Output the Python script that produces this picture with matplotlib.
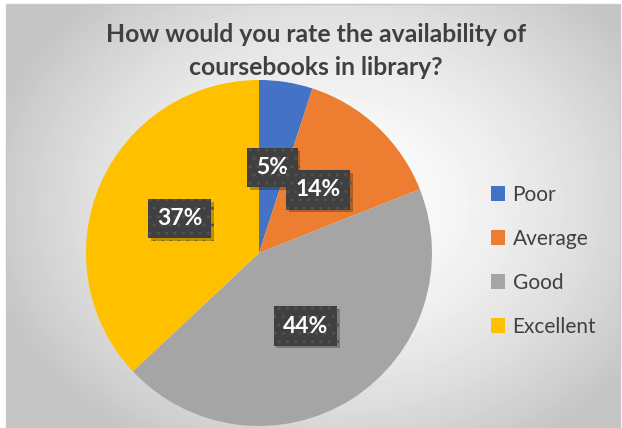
import numpy as np
import matplotlib.pyplot as plt
import matplotlib.patheffects as pe
from matplotlib.patches import Rectangle

# === DATA ===
categories = ["Poor", "Average", "Good", "Excellent"]
shares = [5, 14, 44, 37]
colors = ["#4472C4", "#ED7D31", "#A5A5A5", "#FFC000"]
title = "How would you rate the availability of\ncoursebooks in library?"

W, H = 622, 428
plt.rcParams['font.family'] = ['Lato', 'DejaVu Sans']
fig = plt.figure(figsize=(W / 100, H / 100), dpi=100)
fig.patch.set_facecolor('white')

# === BACKGROUND (radial gradient) ===
bg = fig.add_axes([6 / W, 0, 614 / W, 424 / H])
yy, xx = np.mgrid[0:424, 0:614]
r = np.sqrt(((xx - 330) / 380) ** 2 + ((yy - 200) / 300) ** 2)
shade = np.clip(1.0 - 0.25 * r ** 1.6, 0.77, 1.0)
bg.imshow(shade, cmap='gray', vmin=0, vmax=1, aspect='auto', interpolation='bilinear')
bg.set_axis_off()
fig.add_artist(Rectangle((6 / W, 0), 614 / W, 424 / H, transform=fig.transFigure,
                         fill=False, edgecolor='#c8c8c8', linewidth=1))

# === PIE ===
cx, cy, rad = 259, 253, 173
ax = fig.add_axes([(cx - rad) / W, (H - cy - rad) / H, 2 * rad / W, 2 * rad / H])
wedges, _, autotexts = ax.pie(shares, colors=colors, startangle=90, counterclock=False,
                              autopct='%1.0f%%', pctdistance=0.5, radius=1,
                              wedgeprops=dict(linewidth=0))
ax.set_xlim(-1, 1)
ax.set_ylim(-1, 1)
ax.set_aspect('equal')

for t in autotexts:
    t.set_color('white')
    t.set_fontsize(16.5)
    t.set_fontweight('bold')
    t.set_bbox(dict(boxstyle='square,pad=0.4', facecolor='#404040',
                    edgecolor='#525252', linewidth=0, hatch='..'))
    t.get_bbox_patch().set_path_effects([
        pe.SimplePatchShadow(offset=(2, -2), shadow_rgbFace='black', alpha=0.25),
        pe.Normal()])

# === TITLE ===
fig.text(316 / W, 1 - 51 / H, title, ha='center', va='center', fontsize=17.8,
         fontweight='bold', color='#404040', linespacing=1.5)

# === LEGEND ===
fig.legend(wedges, categories, loc='center left', bbox_to_anchor=(472 / W, 1 - 261 / H),
           frameon=False, fontsize=15, labelcolor='#404040', handlelength=0.7,
           handleheight=0.7, handletextpad=0.35, labelspacing=1.15)

fig.savefig('out.png', dpi=100)
